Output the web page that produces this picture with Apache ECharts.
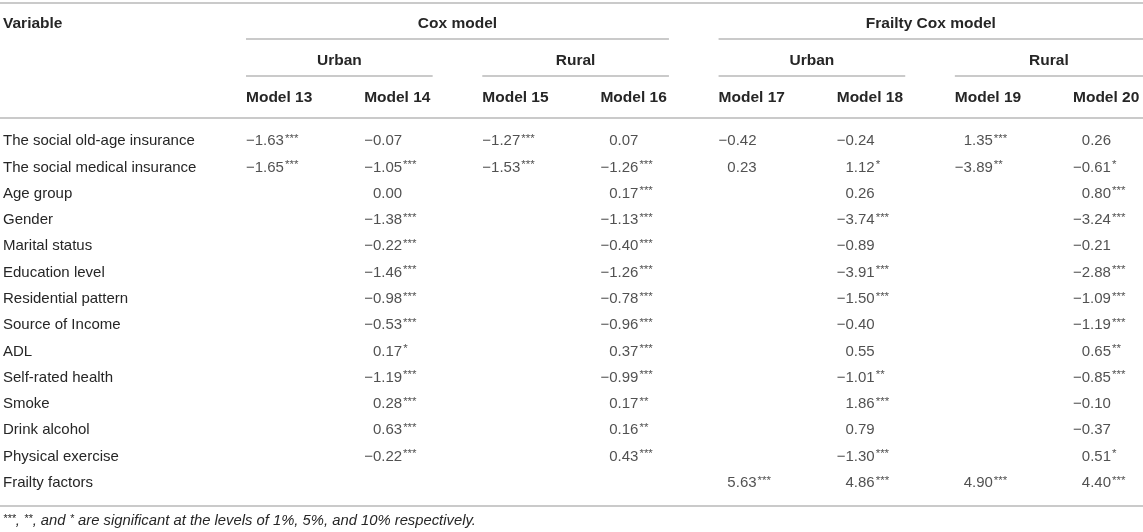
<!DOCTYPE html>
<html>
<head>
  <meta charset="utf-8">
  <title>Cox and frailty Cox models</title>
  <style>
    html, body { margin: 0; padding: 0; background: #fff; }
    #main { width: 1143px; height: 532px; }
  </style>
</head>
<body>
<div id="main"></div>
<script src="https://cdn.jsdelivr.net/npm/echarts@6/dist/echarts.min.js"></script>
<script>
  const FONT = "'Liberation Sans', Arial, Helvetica, sans-serif"
  const TEXT = '#262626'
  const RULE = '#b9b9b9'

  const variables = [
    'The social old-age insurance', 'The social medical insurance', 'Age group', 'Gender',
    'Marital status', 'Education level', 'Residential pattern', 'Source of Income', 'ADL',
    'Self-rated health', 'Smoke', 'Drink alcohol', 'Physical exercise', 'Frailty factors'
  ]
  const models = ['Model 13', 'Model 14', 'Model 15', 'Model 16', 'Model 17', 'Model 18', 'Model 19', 'Model 20']

  // header groups, by model column index
  const groups = [
    { name: 'Cox model', from: 0, to: 3 },
    { name: 'Frailty Cox model', from: 4, to: 7 }
  ]
  const areas = [
    { name: 'Urban', from: 0, to: 1 },
    { name: 'Rural', from: 2, to: 3 },
    { name: 'Urban', from: 4, to: 5 },
    { name: 'Rural', from: 6, to: 7 }
  ]

  // coefficients, null = variable not in the model
  const model13 = [-1.63, -1.65, null, null, null, null, null, null, null, null, null, null, null, null]
  const stars13 = ['***', '***', '', '', '', '', '', '', '', '', '', '', '', '']
  const model14 = [-0.07, -1.05, 0.00, -1.38, -0.22, -1.46, -0.98, -0.53, 0.17, -1.19, 0.28, 0.63, -0.22, null]
  const stars14 = ['', '***', '', '***', '***', '***', '***', '***', '*', '***', '***', '***', '***', '']
  const model15 = [-1.27, -1.53, null, null, null, null, null, null, null, null, null, null, null, null]
  const stars15 = ['***', '***', '', '', '', '', '', '', '', '', '', '', '', '']
  const model16 = [0.07, -1.26, 0.17, -1.13, -0.40, -1.26, -0.78, -0.96, 0.37, -0.99, 0.17, 0.16, 0.43, null]
  const stars16 = ['', '***', '***', '***', '***', '***', '***', '***', '***', '***', '**', '**', '***', '']
  const model17 = [-0.42, 0.23, null, null, null, null, null, null, null, null, null, null, null, 5.63]
  const stars17 = ['', '', '', '', '', '', '', '', '', '', '', '', '', '***']
  const model18 = [-0.24, 1.12, 0.26, -3.74, -0.89, -3.91, -1.50, -0.40, 0.55, -1.01, 1.86, 0.79, -1.30, 4.86]
  const stars18 = ['', '*', '', '***', '', '***', '***', '', '', '**', '***', '', '***', '***']
  const model19 = [1.35, -3.89, null, null, null, null, null, null, null, null, null, null, null, 4.90]
  const stars19 = ['***', '**', '', '', '', '', '', '', '', '', '', '', '', '***']
  const model20 = [0.26, -0.61, 0.80, -3.24, -0.21, -2.88, -1.09, -1.19, 0.65, -0.85, -0.10, -0.37, 0.51, 4.40]
  const stars20 = ['', '*', '***', '***', '', '***', '***', '***', '**', '***', '', '', '*', '***']

  const footnote = '***, **, and * are significant at the levels of 1%, 5%, and 10% respectively.'

  let columns = [model13, model14, model15, model16, model17, model18, model19, model20]
  let columnStars = [stars13, stars14, stars15, stars16, stars17, stars18, stars19, stars20]

  // one point per filled cell: [column, row, value, stars]
  let cells = []
  columns.forEach((col, c) => {
    col.forEach((v, r) => {
      if (v !== null) cells.push([c, r, v, columnStars[c][r]])
    })
  })

  let chart = echarts.init(document.getElementById('main'), null, { renderer: 'canvas' })

  let option = {
    backgroundColor: '#fff',
    animation: false,
    textStyle: { fontFamily: FONT, color: TEXT },
    grid: { left: 246, right: 70, top: 128, height: 368 },
    xAxis: {
      type: 'value',
      position: 'top',
      min: 0,
      max: models.length - 1,
      interval: 1,
      axisLine: { show: false },
      axisTick: { show: false },
      splitLine: { show: false },
      axisLabel: {
        formatter: (v) => models[v] || '',
        align: 'left',
        verticalAlign: 'middle',
        margin: 30,
        fontSize: 15.5,
        fontWeight: 'bold',
        color: TEXT,
        fontFamily: FONT
      }
    },
    yAxis: {
      type: 'category',
      data: variables,
      inverse: true,
      axisLine: { show: false },
      axisTick: { show: false },
      splitLine: { show: false },
      axisLabel: {
        align: 'left',
        margin: 243,
        fontSize: 15,
        color: TEXT,
        fontFamily: FONT
      }
    },
    series: [
      {
        type: 'scatter',
        symbolSize: 0,
        silent: true,
        data: cells,
        label: {
          show: true,
          position: 'right',
          distance: 0,
          formatter: (p) => {
            let v = p.data[2]
            let s = p.data[3]
            let num = Math.abs(v).toFixed(2)
            let txt = v < 0 ? '{v|\u2212' + num + '}' : '{p| }{v|' + num + '}'
            if (s) txt += '{s|' + s + '}'
            return txt
          },
          rich: {
            v: { fontSize: 15, color: TEXT, fontFamily: FONT },
            p: { width: 8.8, fontSize: 15 },
            s: { fontSize: 11.5, color: TEXT, fontFamily: FONT, padding: [0, 0, 5, 1] }
          }
        }
      }
    ]
  }
  chart.setOption(option)

  // header rules and group titles, placed from the x axis scale
  function draw_header() {
    const W = chart.getWidth()
    let colX = (i) => chart.convertToPixel({ xAxisIndex: 0 }, i)
    let step = colX(1) - colX(0)
    let spanEnd = (to) => (to === models.length - 1 ? W : colX(to) + step * 0.58)

    let rule = (x1, x2, y) => ({
      type: 'line',
      silent: true,
      shape: { x1, y1: y, x2, y2: y },
      style: { stroke: RULE, lineWidth: 1.6 }
    })
    let head = (text, x, y, align) => ({
      type: 'text',
      silent: true,
      x, y,
      style: {
        text, x: 0, y: 0, align, verticalAlign: 'middle',
        fontSize: 15.5, fontWeight: 'bold', fontFamily: FONT, fill: TEXT
      }
    })

    let els = [
      rule(0, W, 3),
      rule(0, W, 118),
      rule(0, W, 506),
      head('Variable', 3, 24, 'left')
    ]
    groups.forEach((g) => {
      let x1 = colX(g.from), x2 = spanEnd(g.to)
      els.push(rule(x1, x2, 39))
      els.push(head(g.name, (x1 + x2) / 2, 24, 'center'))
    })
    areas.forEach((a) => {
      let x1 = colX(a.from), x2 = spanEnd(a.to)
      els.push(rule(x1, x2, 76))
      els.push(head(a.name, (x1 + x2) / 2, 61, 'center'))
    })

    // footnote, stars as superscripts
    let parts = footnote.split(/(\*+)/).filter((t) => t.length)
    let rich_txt = parts.map((t) => (t[0] === '*' ? '{s|' + t + '}' : '{n|' + t + '}')).join('')
    els.push({
      type: 'text',
      silent: true,
      x: 3, y: 521,
      style: {
        text: rich_txt, x: 0, y: 0, align: 'left', verticalAlign: 'middle',
        fontFamily: FONT, fill: TEXT,
        rich: {
          n: { fontSize: 14.8, fontStyle: 'italic', fontFamily: FONT, fill: TEXT },
          s: { fontSize: 11, fontStyle: 'italic', fontFamily: FONT, fill: TEXT, padding: [0, 0, 5, 0] }
        }
      }
    })

    chart.setOption({ graphic: { elements: els } })
  }
  draw_header()
</script>
</body>
</html>
